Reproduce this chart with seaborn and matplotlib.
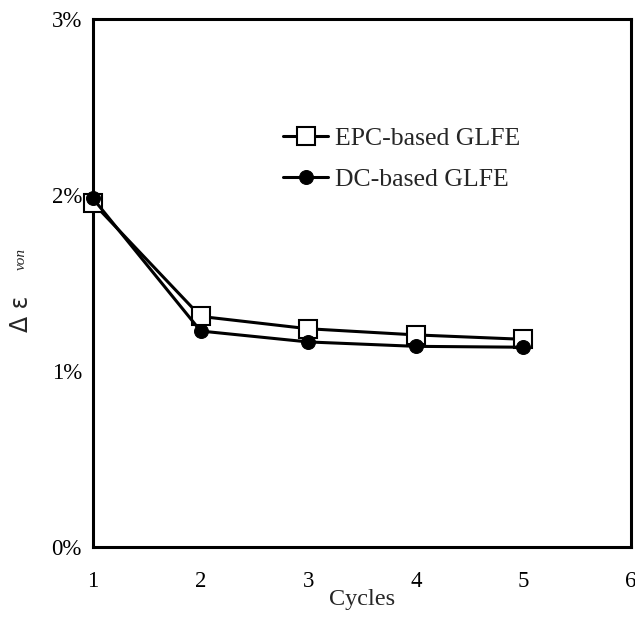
import matplotlib
matplotlib.use("Agg")
import matplotlib.pyplot as plt
import seaborn as sns
import pandas as pd
from matplotlib.ticker import MultipleLocator, FuncFormatter

cycles = [1, 2, 3, 4, 5]
epc = [1.955, 1.31, 1.24, 1.205, 1.18]
dc = [1.98, 1.227, 1.165, 1.14, 1.135]
series_names = ["EPC-based GLFE", "DC-based GLFE"]

sns.set_theme(style="white")
plt.rcParams['font.family'] = ['Liberation Serif', 'DejaVu Sans']

fig = plt.figure(figsize=(6.35, 6.18), dpi=100)
ax = fig.add_axes([0.1465, 0.1149, 0.8472, 0.8544])

df_epc = pd.DataFrame({"Cycles": cycles, "val": epc})
df_dc = pd.DataFrame({"Cycles": cycles, "val": dc})

sns.lineplot(data=df_epc, x="Cycles", y="val", ax=ax, color="black", lw=2.2,
             marker="s", markersize=12.5, markerfacecolor="white",
             markeredgecolor="black", markeredgewidth=1.5, label=series_names[0],
             zorder=3, clip_on=False)
sns.lineplot(data=df_dc, x="Cycles", y="val", ax=ax, color="black", lw=2.2,
             marker="o", markersize=10, markerfacecolor="black",
             markeredgecolor="black", label=series_names[1], zorder=4, clip_on=False)

ax.set_xlim(1, 6)
ax.set_ylim(0, 3)
ax.xaxis.set_major_locator(MultipleLocator(1))
ax.yaxis.set_major_locator(MultipleLocator(1))
ax.yaxis.set_minor_locator(MultipleLocator(0.5))
ax.yaxis.set_major_formatter(FuncFormatter(lambda v, p: f"{int(round(v))}%"))
ax.tick_params(axis="both", which="both", direction="in", length=5, width=2,
               labelsize=16.5, colors="black")
ax.tick_params(axis="x", pad=17)
ax.tick_params(axis="y", pad=8)
for s in ax.spines.values():
    s.set_linewidth(2.2)
    s.set_color("black")

ax.set_xlabel("Cycles", fontsize=17.5, labelpad=-2)
ax.set_ylabel("")
fig.text(0.033, 0.463, "Δ ε", rotation=90, fontsize=17, family="DejaVu Sans",
         ha="center", va="bottom")
fig.text(0.033, 0.563, "von", rotation=90, fontsize=11, style="italic",
         ha="center", va="bottom")

leg = ax.legend(loc="upper left", bbox_to_anchor=(0.311, 0.839), frameon=False,
                fontsize=18.5, handlelength=1.75, handletextpad=0.27, labelspacing=0.69)

fig.savefig("out.png", dpi=100, facecolor="white")
